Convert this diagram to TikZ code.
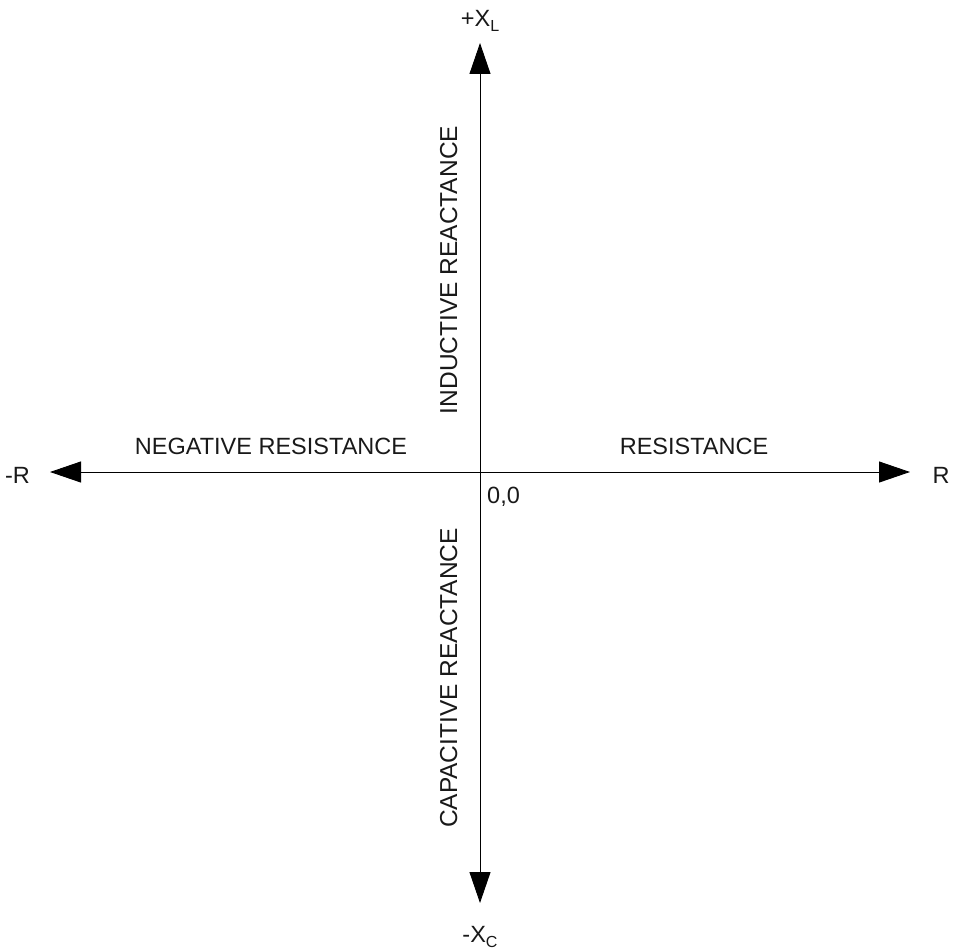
\documentclass[tikz,border=0pt]{standalone}
\usepackage{fontspec}
\setmainfont{Liberation Sans}
\usetikzlibrary{arrows.meta}
\newcommand{\subtxt}[1]{\raisebox{-5pt}{\fontsize{16}{16}\selectfont #1}}

\begin{document}
\begin{tikzpicture}[x=1pt,y=-1pt,every node/.style={font=\fontsize{23.5}{27}\selectfont,text=black!90,inner sep=0pt}]
    \tikzstyle{ax}=[line width=0.9pt,{Triangle[length=31pt,width=21pt]}-{Triangle[length=31pt,width=21pt]}];
    \tikzstyle{lbl}=[anchor=base];
    \tikzstyle{vlbl}=[anchor=base,rotate=90,font=\fontsize{24.5}{28}\selectfont];
    \useasboundingbox (0,0) rectangle (953,950);

    % axes
    \coordinate (orig)  at (480,472);
    \coordinate (left)  at (50,472);
    \coordinate (right) at (910,472);
    \coordinate (top)   at (480,43);
    \coordinate (bot)   at (480,903);
    \draw[ax] (left) -- (right);
    \draw[ax] (bot) -- (top);

    % axis ends
    \node[lbl] (xl)   at (480,27)  {+X\subtxt{L}};
    \node[lbl] (xc)   at (480,942) {-X\subtxt{C}};
    \node[lbl] (negr) at (17.5,483) {-R};
    \node[lbl] (posr) at (941,483) {R};
    \node[anchor=base west] (zero) at (487,503) {0,0};

    % quadrant texts
    \node[lbl]  (negres) at (271,454) {NEGATIVE RESISTANCE};
    \node[lbl]  (res)    at (694,454) {RESISTANCE};
    \node[vlbl] (ind)    at (457,270) {INDUCTIVE REACTANCE};
    \node[vlbl] (cap)    at (457,678) {CAPACITIVE REACTANCE};
\end{tikzpicture}
\end{document}
